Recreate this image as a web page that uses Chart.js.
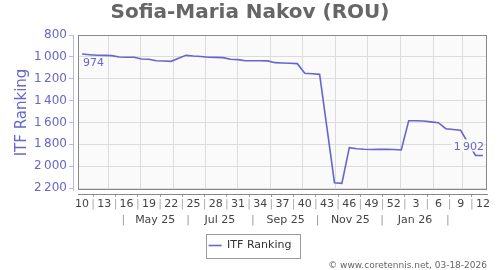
<!DOCTYPE html>
<html><head><meta charset="utf-8">
<script src="https://cdn.jsdelivr.net/npm/chart.js@4"></script>
<style>html,body{margin:0;padding:0;background:#fff}#wrap{width:500px;height:270px;position:relative}</style>
</head><body><div id="wrap"><canvas id="c"></canvas></div>
<script>
// ---- data ----
const firstDate = '2025-03-07';
const weekNumbers = [10,11,12,13,14,15,16,17,18,19,20,21,22,23,24,25,26,27,28,29,30,31,32,33,34,35,36,37,38,39,40,41,42,43,44,45,46,47,48,49,50,51,52,1,2,3,4,5,6,7,8,9,10,11,12];
const rankings = [974,980,985,986,989,1001,1003,1004,1020,1022,1035,1038,1041,1013,986,992,996,1004,1005,1007,1022,1025,1035,1035,1035,1037,1053,1056,1059,1062,1150,1155,1160,1655,2151,2157,1831,1840,1845,1848,1845,1846,1848,1852,1584,1585,1587,1595,1602,1657,1665,1672,1787,1902,1902];
const weekTickLabels = ['10','13','16','19','22','25','28','31','34','37','40','43','46','49','52','3','6','9','12'];
const monthLabels = ['May 25','Jul 25','Sep 25','Nov 25','Jan 26'];
const monthLabelDates = ['2025-05-15','2025-07-15','2025-09-15','2025-11-15','2026-01-15'];
const monthSeparatorDates = ['2025-04-15','2025-06-15','2025-08-15','2025-10-15','2025-12-15','2026-02-15'];
const monthStartDates = ['2025-04-01','2025-05-01','2025-06-01','2025-07-01','2025-08-01','2025-09-01','2025-10-01','2025-11-01','2025-12-01','2026-01-01','2026-02-01','2026-03-01'];
const yTicks = [800,1000,1200,1400,1600,1800,2000,2200];
const seriesName = 'ITF Ranking';

// ---- helpers ----
const fmt = v => String(v).replace(/\B(?=(\d{3})+(?!\d))/g, '\u2009');
const weekPos = d => (Date.parse(d) - Date.parse(firstDate)) / (7 * 864e5);
const PURPLE = '#6666cc';
const X_MIN = -0.55, X_MAX = weekNumbers.length - 1 + 0.55;
const Y_MIN = 800, Y_MAX = 2218;

// week tick positions (index of each labelled week)
const weekTickPos = [];
{ let start = 0; weekTickLabels.forEach(l => { const i = weekNumbers.indexOf(+l, start); weekTickPos.push(i); start = i + 1; }); }
const weekTicks = [];
weekTickPos.forEach((p, k) => {
  weekTicks.push({value: p, lab: weekTickLabels[k], sep: false});
  if (k < weekTickPos.length - 1) weekTicks.push({value: (p + weekTickPos[k + 1]) / 2, lab: '|', sep: true});
});
const monthTicks = [];
monthSeparatorDates.forEach((d, k) => {
  monthTicks.push({value: weekPos(d), lab: '|', sep: true});
  if (k < monthLabels.length) monthTicks.push({value: weekPos(monthLabelDates[k]), lab: monthLabels[k], sep: false});
});
monthTicks.sort((a, b) => a.value - b.value);

Chart.defaults.font.family = "'DejaVu Sans', sans-serif";

const framePlugin = {
  id: 'frame',
  beforeDraw(chart) {
    const a = chart.chartArea, ctx = chart.ctx;
    ctx.save(); ctx.fillStyle = '#fafafa';
    ctx.fillRect(a.left, a.top, a.right - a.left, a.bottom - a.top); ctx.restore();
  },
  beforeDatasetsDraw(chart) {
    const a = chart.chartArea, ctx = chart.ctx;
    ctx.save(); ctx.strokeStyle = '#888'; ctx.lineWidth = 1;
    ctx.strokeRect(Math.round(a.left) + 0.5, Math.round(a.top) + 0.5, Math.round(a.right - a.left) - 1, Math.round(a.bottom - a.top) - 1);
    ctx.restore();
  },
  afterDatasetsDraw(chart) {
    const meta = chart.getDatasetMeta(0), ctx = chart.ctx;
    const first = meta.data[0], last = meta.data[meta.data.length - 1];
    ctx.save(); ctx.font = "11px 'DejaVu Sans'"; ctx.fillStyle = PURPLE;
    ctx.textAlign = 'left'; ctx.textBaseline = 'top';
    ctx.fillText(fmt(rankings[0]), first.x + 1, first.y + 4);
    const t = fmt(rankings[rankings.length - 1]);
    const w = ctx.measureText(t).width;
    ctx.fillStyle = '#fafafa';
    ctx.fillRect(last.x - w - 1, last.y - 16, w + 2, 12);
    ctx.fillStyle = PURPLE; ctx.textAlign = 'right'; ctx.textBaseline = 'bottom';
    ctx.fillText(t, last.x + 1, last.y - 3);
    ctx.restore();
  },
  afterDraw(chart) {
    const hb = chart.legend && chart.legend.legendHitBoxes && chart.legend.legendHitBoxes[0];
    if (!hb) return;
    const ctx = chart.ctx, cy = hb.top + hb.height / 2;
    ctx.save(); ctx.strokeStyle = '#999'; ctx.lineWidth = 1;
    ctx.strokeRect(Math.round(hb.left - 3) + 0.5, Math.round(cy - 12) + 0.5, Math.round(hb.width + 11), 24);
    ctx.restore();
  }
};

new Chart(document.getElementById('c'), {
  type: 'line',
  data: {
    datasets: [{
      label: seriesName,
      data: rankings.map((v, i) => ({x: i, y: v})),
      borderColor: PURPLE, backgroundColor: PURPLE,
      borderWidth: 1.6, pointRadius: 0, tension: 0, fill: false,
      xAxisID: 'x', yAxisID: 'y'
    }]
  },
  options: {
    responsive: true, maintainAspectRatio: false, animation: false,
    layout: {padding: {left: 13, right: 13, top: 0, bottom: 0}},
    plugins: {
      title: {display: true, text: 'Sofia-Maria Nakov (ROU)', color: '#666',
        font: {size: 20, weight: 'bold'}, padding: {top: 1, bottom: 10}},
      subtitle: {display: true, text: '\u00a9 www.coretennis.net, 03-18-2026', position: 'bottom', align: 'end',
        color: '#666', font: {size: 9, lineHeight: 1}, padding: {top: 0, bottom: 0}},
      legend: {position: 'bottom', labels: {usePointStyle: true, pointStyle: 'line', pointStyleWidth: 13,
        color: '#333', font: {size: 11}, padding: 10}},
      tooltip: {enabled: false}
    },
    scales: {
      y: {
        type: 'linear', position: 'left', reverse: true, min: Y_MIN, max: Y_MAX, weight: 1,
        afterBuildTicks: s => { s.ticks = yTicks.map(v => ({value: v})); },
        afterFit: s => { s.width = 60; },
        ticks: {color: PURPLE, font: {size: 12}, padding: 2, callback: v => fmt(v)},
        grid: {color: '#dcdcdc', borderDash: [3, 3], tickColor: '#b8b8e6', tickLength: 4, drawTicks: true},
        border: {display: true, color: '#b8b8e6', dash: []},
        title: {display: true, text: seriesName, color: PURPLE, font: {size: 15}, padding: {top: 0, bottom: 0}}
      },
      yGap: {
        type: 'linear', position: 'left', reverse: true, min: Y_MIN, max: Y_MAX, weight: 0,
        afterFit: s => { s.width = 5; },
        ticks: {display: false},
        grid: {drawOnChartArea: false, drawTicks: true, tickLength: 5, tickColor: 'rgba(0,0,0,0)', color: 'rgba(0,0,0,0)'},
        border: {display: false}
      },
      xGap: {
        type: 'linear', position: 'bottom', min: X_MIN, max: X_MAX, weight: 0,
        afterBuildTicks: s => { s.ticks = monthStartDates.map(d => ({value: weekPos(d)})); },
        afterFit: s => { s.height = 4; },
        ticks: {display: false},
        grid: {drawOnChartArea: true, color: '#dcdcdc', borderDash: [3, 3], drawTicks: true, tickLength: 4, tickColor: 'rgba(0,0,0,0)'},
        border: {display: false}
      },
      x: {
        type: 'linear', position: 'bottom', min: X_MIN, max: X_MAX, weight: 1,
        afterBuildTicks: s => { s.ticks = weekTicks.map(t => ({...t})); },
        afterFit: s => { s.height = 18; },
        ticks: {autoSkip: false, maxRotation: 0, minRotation: 0, padding: 1, font: {size: 11},
          color: c => (c.tick && c.tick.sep) ? '#aaa' : '#444',
          callback: (v, i, ts) => ts[i].lab},
        grid: {drawOnChartArea: false, drawTicks: true, tickLength: 3,
          tickColor: c => (c.tick && c.tick.sep) ? '#999' : 'rgba(0,0,0,0)', color: 'rgba(0,0,0,0)'},
        border: {display: true, color: '#888'}
      },
      xMonth: {
        type: 'linear', position: 'bottom', min: X_MIN, max: X_MAX, weight: 2,
        afterBuildTicks: s => { s.ticks = monthTicks.map(t => ({...t})); },
        afterFit: s => { s.height = 18; },
        ticks: {autoSkip: false, maxRotation: 0, minRotation: 0, padding: 2, font: {size: 11},
          color: c => (c.tick && c.tick.sep) ? '#999' : '#444',
          callback: (v, i, ts) => ts[i].lab},
        grid: {display: false, drawTicks: false},
        border: {display: false}
      }
    }
  },
  plugins: [framePlugin]
});
</script></body></html>
